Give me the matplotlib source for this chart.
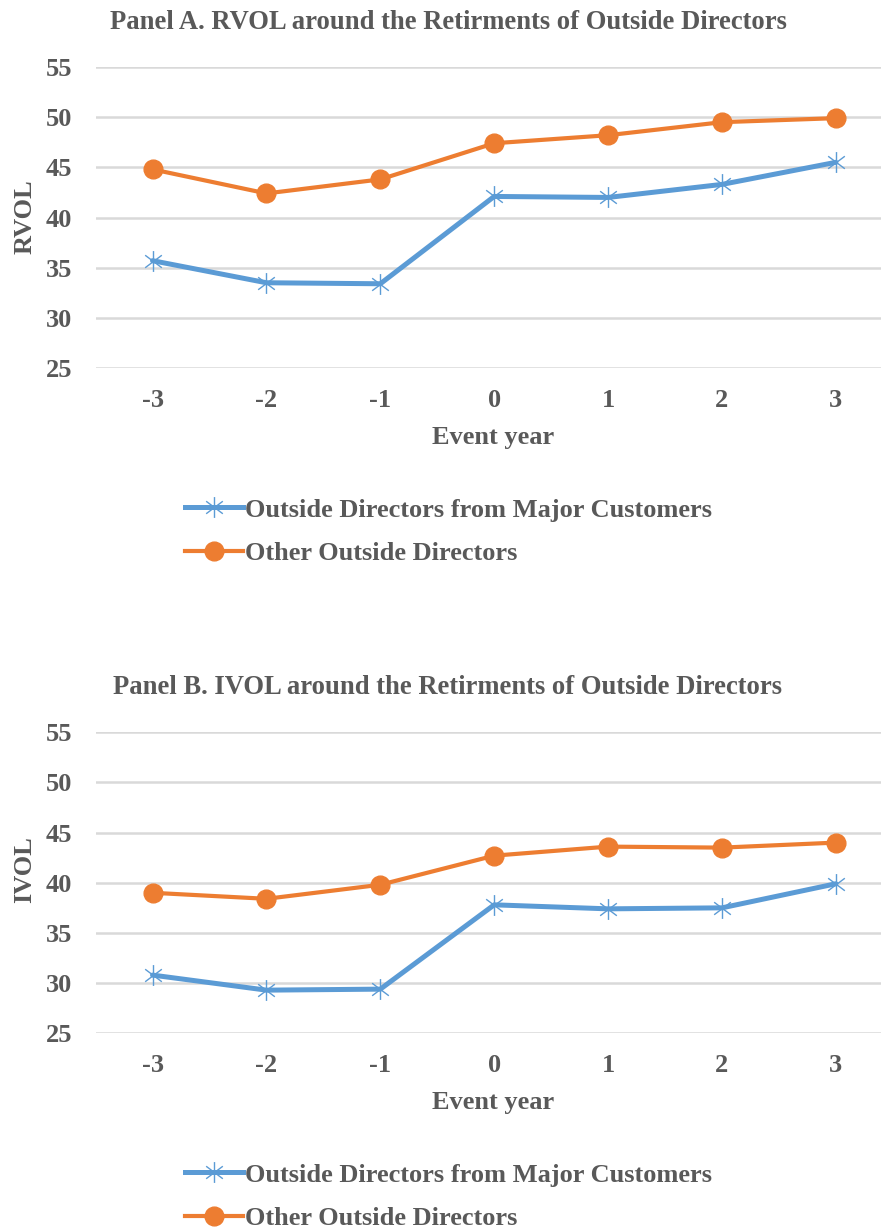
import numpy as np
import matplotlib
matplotlib.use("Agg")
import matplotlib.pyplot as plt
from matplotlib.path import Path
from matplotlib.lines import Line2D

plt.rcParams['font.family'] = ['Liberation Serif', 'DejaVu Serif']
plt.rcParams['font.weight'] = 'bold'

years = [-3, -2, -1, 0, 1, 2, 3]
year_labels = [str(y) for y in years]

rvol_major = [35.7, 33.5, 33.4, 42.1, 42.0, 43.3, 45.5]
rvol_other = [44.8, 42.4, 43.8, 47.4, 48.2, 49.5, 49.9]
ivol_major = [30.8, 29.3, 29.4, 37.8, 37.4, 37.5, 39.9]
ivol_other = [39.0, 38.4, 39.8, 42.7, 43.6, 43.5, 44.0]

lab_major = "Outside Directors from Major Customers"
lab_other = "Other Outside Directors"

blue = "#5B9BD5"
orange = "#ED7D31"
txt = "#595959"
grid = "#D9D9D9"
fs = 19

# asterisk marker: vertical stroke plus an X
verts = [(0, -1), (0, 1), (-0.8, -0.6), (0.8, 0.6), (-0.8, 0.6), (0.8, -0.6)]
codes = [Path.MOVETO, Path.LINETO] * 3
star = Path(verts, codes)

fig = plt.figure(figsize=(8.81, 12.31), dpi=100)


def panel(bottom, major, other):
    ax = fig.add_axes([0.1085, bottom, 0.892, 0.2446])
    x = np.arange(len(years))
    ax.plot(x, other, color=orange, lw=3.0, marker='o', ms=13.5, mec=orange,
            mfc=orange, solid_capstyle='round', zorder=3)
    ax.plot(x, major, color=blue, lw=3.6, marker=star, ms=15, mew=1.0,
            mec=blue, solid_capstyle='round', zorder=4)
    ax.set_xlim(-0.5, 6.4)
    ax.set_ylim(25, 55)
    ax.set_yticks(np.arange(25, 56, 5))
    ax.set_xticks(x)
    ax.set_xticklabels(year_labels)
    ax.yaxis.grid(True, color=grid, lw=1.8)
    ax.set_axisbelow(True)
    for s in ax.spines.values():
        s.set_visible(False)
    ax.tick_params(length=0, labelsize=fs, labelcolor=txt)
    ax.tick_params(axis='y', pad=17)
    ax.tick_params(axis='x', pad=15)
    return ax


panel(0.7010, rvol_major, rvol_other)
panel(0.1606, ivol_major, ivol_other)

fig.text(0.5085, 0.9818, "Panel A. RVOL around the Retirments of Outside Directors",
         ha='center', va='center', fontsize=19.2, color=txt)
fig.text(0.5085, 0.4418, "Panel B. IVOL around the Retirments of Outside Directors",
         ha='center', va='center', fontsize=19.2, color=txt)
fig.text(0.5596, 0.645, "Event year", ha='center', va='center', fontsize=fs, color=txt)
fig.text(0.5596, 0.104, "Event year", ha='center', va='center', fontsize=fs, color=txt)
fig.text(0.028, 0.8237, "RVOL", ha='center', va='center', rotation=90, fontsize=fs, color=txt)
fig.text(0.028, 0.2933, "IVOL", ha='center', va='center', rotation=90, fontsize=fs, color=txt)

handles = [
    Line2D([], [], color=blue, lw=3.6, marker=star, ms=15, mew=1.0, mec=blue),
    Line2D([], [], color=orange, lw=3.0, marker='o', ms=13.5, mec=orange, mfc=orange),
]
for yc in (0.5683, 0.0281):
    leg = fig.legend(handles, [lab_major, lab_other], loc='center left',
                     bbox_to_anchor=(0.21, yc), frameon=False, fontsize=fs,
                     handlelength=2.2, handletextpad=0.08, labelspacing=0.75,
                     borderpad=0, borderaxespad=0)
    for t in leg.get_texts():
        t.set_color(txt)

fig.savefig("out.png", dpi=100)
